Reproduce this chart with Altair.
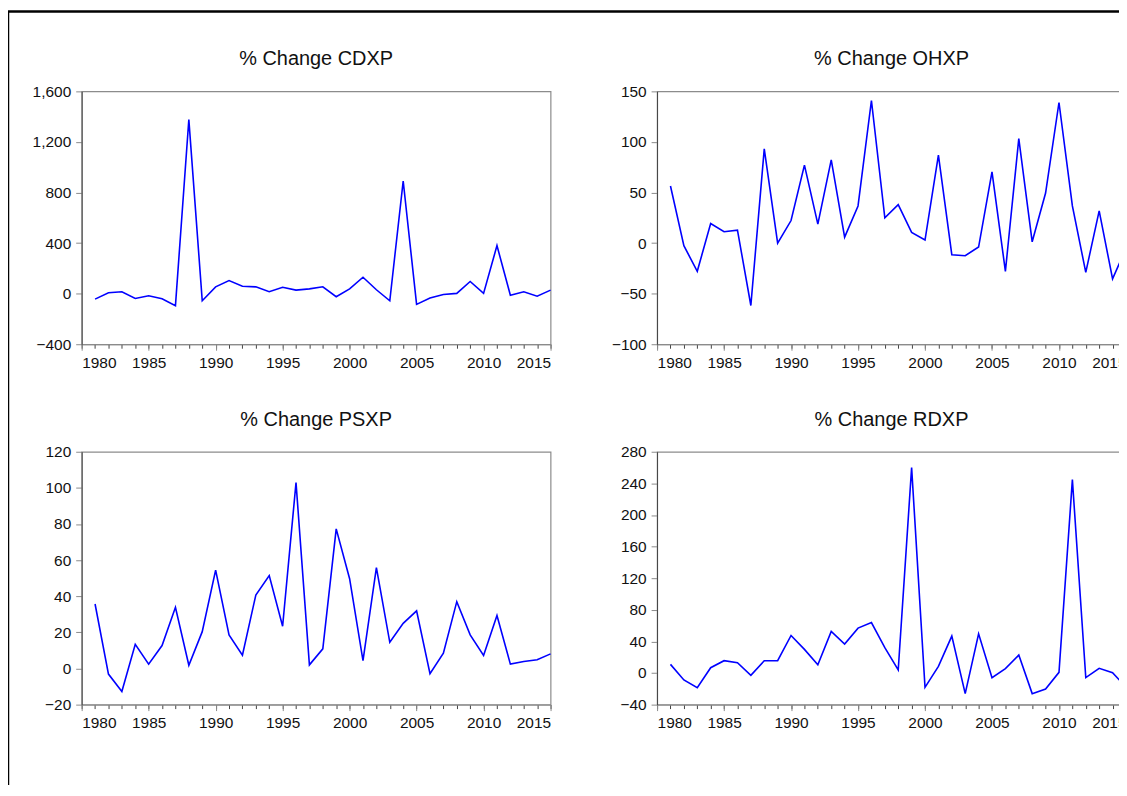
import altair as alt
import pandas as pd

years = list(range(1981, 2016))

cdxp = [-43, 7, 15, -38, -17, -40, -95, 1377, -56, 54,
        104, 59, 54, 15, 51, 28, 38, 54, -24, 38,
        130, 31, -56, 891, -85, -35, -6, 2, 96, 2,
        380, -12, 15, -20, 28]
ohxp = [56.4, -2.6, -27.9, 19.4, 11.2, 12.8, -61.7, 93.2, 0, 22.3,
        77.1, 18.7, 82.3, 5.9, 36.7, 141, 24.9, 38, 10.5, 3,
        87, -11.5, -12.5, -3.9, 70.5, -27.9, 103.3, 1.3, 49.5, 139,
        36.7, -28.9, 31.8, -35.4, -5]
psxp = [35.7, -3.1, -12.7, 13.4, 2.4, 12.7, 33.9, 1.8, 20.4, 54.5,
        18.6, 7.4, 40.7, 51.4, 23.4, 102.9, 2.0, 10.9, 77.3, 49.7,
        4.4, 55.8, 14.5, 25.0, 31.9, -2.9, 8.5, 37.0, 18.6, 7.2,
        29.3, 2.4, 3.9, 4.8, 8.1]
rdxp = [10.9, -8.8, -18.5, 6.7, 15.6, 13.0, -2.9, 15.6, 15.6, 47.5,
        29.9, 10.5, 52.6, 36.6, 56.8, 63.9, 32.0, 3.8, 259.9, -18.1,
        8.4, 46.7, -26.1, 49.6, -5.9, 5.5, 22.7, -26.1, -20.2, 0.8,
        244.7, -5.9, 5.9, 0.4, -18]

titles = ["% Change CDXP", "% Change OHXP", "% Change PSXP", "% Change RDXP"]
y_ticks = [
    [-400, 0, 400, 800, 1200, 1600],
    [-100, -50, 0, 50, 100, 150],
    [-20, 0, 20, 40, 60, 80, 100, 120],
    [-40, 0, 40, 80, 120, 160, 200, 240, 280],
]
x_major = [1980, 1985, 1990, 1995, 2000, 2005, 2010, 2015]
x_minor = list(range(1980, 2016))

FONT = "Liberation Sans"
W, H = 471, 254


def panel(values, title, ticks):
    df = pd.DataFrame({"year": years, "value": values})
    xscale = alt.Scale(domain=[1980, 2015], nice=False, zero=False)
    yscale = alt.Scale(domain=[ticks[0], ticks[-1]], nice=False, zero=False)
    yenc = alt.Y(
        "value:Q", scale=yscale, title=None,
        axis=alt.Axis(values=ticks, format=",d", grid=False, tickSize=6,
                      tickColor="#8a8a8a", domainColor="#444444", domainWidth=1,
                      labelFont=FONT, labelFontSize=15.5, labelColor="#111111",
                      labelPadding=5),
    )
    minor = alt.Chart(df).mark_line(strokeOpacity=0).encode(
        x=alt.X("year:Q", scale=xscale, title=None,
                axis=alt.Axis(values=x_minor, labels=False, domain=False, grid=False,
                              orient="bottom", tickSize=4, tickColor="#444444")),
        y=yenc,
    )
    major = alt.Chart(df).mark_line(color="#0000FF", strokeWidth=1.6).encode(
        x=alt.X("year:Q", scale=xscale, title=None,
                axis=alt.Axis(values=x_major, format="d", grid=False, orient="bottom",
                              tickSize=6, tickColor="#8a8a8a", domainColor="#8a8a8a",
                              labelFont=FONT, labelFontSize=15.5, labelColor="#111111",
                              labelPadding=5)),
        y=yenc,
    )
    return alt.layer(minor, major).resolve_axis(x="independent").properties(
        width=W, height=H,
        title=alt.TitleParams(title, font=FONT, fontSize=20, fontWeight="normal",
                              color="#111111", anchor="middle", frame="group",
                              offset=15),
    )


frame_df = pd.DataFrame({"k": [0]})
frame = alt.layer(
    alt.Chart(frame_df).mark_rule(color="black", strokeWidth=2.5).encode(
        x=alt.value(-74), x2=alt.value(1100), y=alt.value(-804.25)),
    alt.Chart(frame_df).mark_rule(color="black", strokeWidth=2.5).encode(
        x=alt.value(-74), y=alt.value(-804.25), y2=alt.value(-10)),
).properties(width=W, height=1, view=alt.ViewBackground(strokeOpacity=0))

panels = [panel(v, t, tk) for v, t, tk in zip([cdxp, ohxp, psxp, rdxp], titles, y_ticks)]

chart = alt.concat(
    *panels, frame, columns=2, spacing={"row": 108, "column": 107}, bounds="flush"
).properties(
    padding={"left": -2, "top": 0, "right": -60, "bottom": -30},
    background="white",
).configure_view(stroke="#8c8c8c", strokeWidth=1.2)

chart.save("out.html", embed_options={"renderer": "svg", "actions": False})
